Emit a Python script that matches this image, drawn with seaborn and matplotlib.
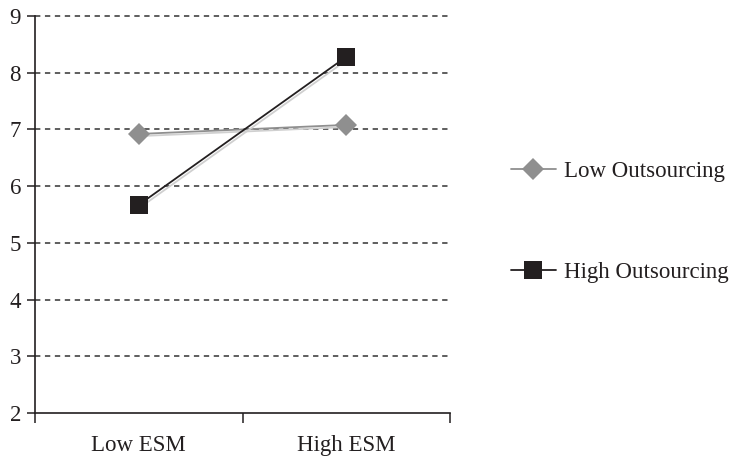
import pandas as pd
import matplotlib
matplotlib.use("Agg")
import matplotlib.pyplot as plt
import matplotlib.patheffects as pe
import seaborn as sns

# ----------------------------------------
# data
# ----------------------------------------
esm_levels = ["Low ESM", "High ESM"]
groups = ["Low Outsourcing", "High Outsourcing"]
low_outsourcing = [6.92, 7.08]
high_outsourcing = [5.67, 8.28]

df = pd.DataFrame({
    "esm": esm_levels * 2,
    "group": [groups[0]] * 2 + [groups[1]] * 2,
    "value": low_outsourcing + high_outsourcing,
})

sns.set_style("white")
plt.rcParams["font.family"] = ["Liberation Serif", "DejaVu Serif"]

fig = plt.figure(figsize=(7.37, 4.58), dpi=100)
ax = fig.add_axes([35 / 737, 45 / 458, 415 / 737, 397 / 458])

shadow = [pe.SimpleLineShadow(offset=(1.5, -1.5), shadow_color="#d0d0d0", alpha=1), pe.Normal()]

sns.lineplot(
    data=df, x="esm", y="value", hue="group", style="group",
    palette={groups[0]: "#8f8f8f", groups[1]: "#231f20"},
    markers={groups[0]: "D", groups[1]: "s"},
    dashes=False, markersize=12, linewidth=1.3, ax=ax,
    markeredgewidth=0, sort=False,
)
for line in ax.lines:
    line.set_path_effects(shadow)
    if line.get_marker() == "D":
        line.set_markersize(11)
    else:
        line.set_markersize(13)

ax.set_xlim(-0.5, 1.5)
ax.set_ylim(2, 9)
ax.set_yticks(range(2, 10))
ax.set_xlabel("")
ax.set_ylabel("")

# dashed gridlines
for y in range(3, 10):
    ax.axhline(y, color="#333333", lw=1.1, ls=(0, (3.5, 3)), zorder=0, clip_on=False)

for s in ["top", "right"]:
    ax.spines[s].set_visible(False)
for s in ["left", "bottom"]:
    ax.spines[s].set_color("#231f20")
    ax.spines[s].set_linewidth(1.2)

ax.tick_params(axis="y", which="major", direction="out", length=6, width=1.1,
               left=True, colors="#231f20", labelsize=16.5, pad=4)
ax.tick_params(axis="x", which="major", length=0, labelsize=16.5, pad=16,
               colors="#231f20")
ax.set_xticks([-0.5, 0.5, 1.5], minor=True)
ax.tick_params(axis="x", which="minor", direction="out", length=7, width=1.1,
               bottom=True, color="#231f20")

handles, labels = ax.get_legend_handles_labels()
leg = ax.legend(handles, labels, loc="center left", bbox_to_anchor=(511 / 737, 0.515),
                bbox_transform=fig.transFigure, frameon=False, fontsize=16.5,
                labelspacing=3.5, handlelength=1.95, handletextpad=0.35,
                borderpad=0, borderaxespad=0, labelcolor="#231f20")
for h in leg.get_lines():
    h.set_path_effects([])

fig.savefig("out.png", dpi=100)
